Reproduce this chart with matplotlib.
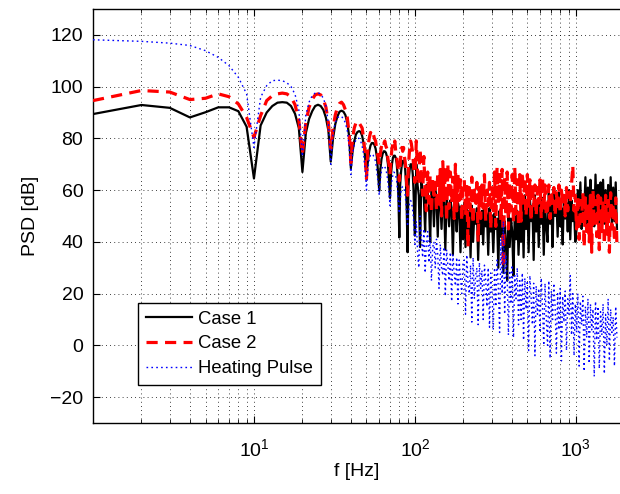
import numpy as np
import matplotlib
matplotlib.use('Agg')
import matplotlib.pyplot as plt
from matplotlib.ticker import LogLocator, NullFormatter

plt.rcParams['font.family'] = ['Liberation Sans', 'DejaVu Sans']
plt.rcParams['mathtext.fontset'] = 'custom'
plt.rcParams['mathtext.rm'] = 'Liberation Sans'

# 1..100 Hz, 1 Hz steps (read point by point)
case1_lo = [89.4, 92.9, 91.8, 88.1, 90.1, 92.0, 92.0, 90.5, 84.5, 64.5,
            85, 90, 92.5, 93.8, 94, 93.8, 92.5, 89.5, 84, 67,
            82, 87.5, 90.5, 92.5, 93, 92.5, 91, 88, 83, 71,
            80, 85.5, 88.5, 90.3, 90.7, 90.3, 89, 86, 81, 68.5,
            75, 79, 81.5, 82.5, 82.8, 82.5, 81, 78, 73, 66,
            71, 75, 77.3, 78.2, 78.2, 77.5, 76, 73, 67, 59.8,
            68, 72, 74, 75, 75, 74.5, 73, 70, 64, 57,
            66, 70, 72.5, 73.3, 73.3, 72.5, 70.5, 66, 57, 41.7,
            62, 67, 70, 71.3, 71.4, 70.5, 68, 63, 52, 36,
            60, 65.5, 68.5, 70, 70, 69, 66, 60, 50, 42.4]
case2_lo = [94.6, 98.5, 97.9, 95, 95.5, 97.2, 96.1, 93.3, 88.1, 80.4,
            88.8, 94.6, 96.5, 97.2, 97.5, 97.2, 96, 93, 87, 74,
            86, 92, 95, 96.8, 97.2, 96.8, 95, 92, 86, 76,
            84, 89, 92, 93.5, 94, 93, 91, 88, 82, 70.7,
            80, 84, 86, 86.8, 86, 85, 84, 80, 74, 64.3,
            76, 80, 82.3, 81, 82, 80, 79, 75, 73, 70,
            74, 77, 79, 78, 79, 77, 76, 72, 70, 66.2,
            72, 76, 78, 77, 79, 75, 73, 70, 68, 63.6,
            70, 74, 76.5, 75, 76.5, 73, 71, 68, 62, 58,
            68, 73, 77, 79, 78, 76, 74, 70, 66, 63]
pulse_lo = [118.1, 117.5, 116.8, 115.9, 113.9, 111.3, 108.1, 103.6, 97.2, 76.5,
            95.9, 100.4, 102.3, 102.5, 102.3, 101.5, 100, 97, 91, 73,
            89, 94, 96.5, 97.5, 97.7, 97, 95.5, 92.5, 86, 70,
            82, 86, 88, 88.5, 88.5, 87.5, 86, 83, 77, 66,
            74, 77.5, 79.5, 80, 80, 79, 77, 74, 68, 60,
            68, 72, 73.5, 74, 73.5, 72.5, 71, 67, 63, 58,
            64, 67.5, 69, 69.4, 69, 68, 66, 63, 59, 54,
            60, 64, 66, 67, 66.5, 65.5, 63.5, 60, 55, 51,
            56, 59.5, 61, 61.4, 61, 60, 58, 55, 50, 46,
            51, 54, 55.5, 56, 55.5, 54, 52, 49, 44, 39]

# 102..1800 Hz, read as a dense band (evenly spaced on the log axis)
case1_hi = [70, 62, 58, 38, 64, 60, 57, 44, 62, 59, 55, 40, 61, 58, 46, 60, 57, 42,
            59, 56, 45, 58, 55, 37, 57, 54, 46, 56, 53, 35, 55, 52, 44, 55, 53, 36, 54, 41,
            55, 38, 53, 45, 52, 34, 54, 40, 51, 47, 53, 33, 50, 43, 52, 39, 54, 46, 51, 35,
            53, 44, 50,
            36, 51, 45, 49, 30, 52, 42, 50, 28, 48, 40, 25, 51, 38, 49, 44, 27, 50, 41, 52,
            35, 49,
            40, 56, 34, 58, 45, 55, 36, 57, 48, 54, 33, 58, 44, 56, 38, 55, 47, 57, 35, 54, 46,
            40, 60, 47, 55, 38, 61, 50, 57, 42, 59, 46, 53, 39, 58, 49, 55, 44, 60, 41, 56,
            48, 52, 40,
            45, 60, 48, 63, 45, 58, 50, 65, 47, 61, 44, 64, 52, 60, 46, 66, 49, 62, 45, 63,
            51, 64, 47, 60, 44, 62, 50, 65, 46, 61, 48, 63, 45]
case2_hi = [79, 66, 62, 76, 65, 58, 73, 60, 52, 67, 55, 66, 51, 64, 58, 63, 52, 67,
            54, 68, 50, 71, 56, 69, 48, 70, 53, 67, 55, 65, 49, 70, 52, 66, 56, 64, 48, 62,
            64, 50, 62, 38, 61, 52, 65, 47, 60, 55, 63, 40, 61, 49, 62, 53, 66, 48, 60, 54,
            63, 45, 61,
            52, 67, 46, 69, 55, 66, 48, 68, 30, 65, 50, 67, 45, 63, 52, 66, 47, 69, 51, 64,
            46, 66,
            48, 67, 55, 65, 50, 66, 53, 64, 48, 63, 54, 62, 50, 61, 55, 64, 49, 65, 52, 62, 50,
            52, 62, 49, 60, 55, 61, 50, 59, 53, 62, 51, 60, 54, 58, 50, 61, 52, 59, 55, 62,
            69.5, 52, 58,
            45, 58, 41, 56, 48, 59, 38, 57, 44, 55, 40, 58, 36, 60, 46, 56, 42, 58, 37, 57,
            44, 55, 39, 58, 43, 56, 36, 59, 45, 55, 40, 57, 38]
pulse_hi = [48, 36, 30, 50, 42, 34, 45, 28, 40, 44, 32, 42, 25, 38, 40, 30, 41, 35,
            22, 39, 30, 27, 38, 19, 37, 31, 25, 36, 17, 35, 28, 23, 34, 16, 33, 26, 20, 32,
            33, 12, 35, 24, 20, 31, 9, 34, 18, 27, 30, 8, 32, 22, 29, 10, 31, 25, 15, 30,
            7, 28, 20,
            6, 30, 15, 33, 22, 5, 41, 20, 48, 12, 35, 26, 4, 29, 16, 31, 3, 27, 18, 30, 8, 25,
            10, 28, 2, 26, 14, 25, -2, 27, 18, 8, 24, -4, 23, 12, 22, 5, 26, 15, 0, 24, 10,
            0, 25, -5, 21, 10, 24, 15, -3, 20, 6, 22, -6, 19, 9, 21, -2, 18, 12, 27, 4,
            20, -4, 16,
            5, 20, -8, 17, 8, 19, -10, 15, 3, 18, -7, 16, 6, 14, -12, 17, 2, 15, -9, 13,
            4, 16, -11, 12, 0, 18, -6, 14, 5, 11, -8, 15, 3]

labels = ['Case 1', 'Case 2', 'Heating Pulse']
xticks = [10, 100, 1000]
yticks = [-20, 0, 20, 40, 60, 80, 100, 120]


def spectrum(lo, hi):
    f = np.concatenate([np.arange(1, len(lo) + 1), np.geomspace(102, 1800, len(hi))])
    return f, np.concatenate([lo, hi])


fig = plt.figure(figsize=(6.2, 4.94), dpi=100)
ax = fig.add_axes([93 / 620, 71 / 494, 527 / 620, 414 / 494])

f1, p1 = spectrum(case1_lo, case1_hi)
f2, p2 = spectrum(case2_lo, case2_hi)
f3, p3 = spectrum(pulse_lo, pulse_hi)

ax.semilogx(f1, p1, color='black', lw=1.6, label=labels[0], zorder=3)
ax.semilogx(f2, p2, color='red', lw=2.3, ls=(0, (3.5, 2.3)), label=labels[1], zorder=4)
ax.semilogx(f3, p3, color='blue', lw=1.0, ls=(0, (1.2, 2.3)), label=labels[2], zorder=5)

ax.set_xlim(1, 1880)
ax.set_ylim(-30, 130)
ax.set_xticks(xticks)
ax.set_yticks(yticks)
ax.xaxis.set_minor_locator(LogLocator(base=10, subs=np.arange(2, 10), numticks=20))
ax.xaxis.set_minor_formatter(NullFormatter())

grid_style = dict(color='black', lw=0.6, ls=(0, (1, 4)))
ax.grid(True, which='major', **grid_style)
ax.grid(True, which='minor', axis='x', **grid_style)
ax.set_axisbelow(True)

ax.tick_params(which='both', direction='in', top=True, labelsize=14)
ax.tick_params(axis='x', pad=11)
ax.tick_params(axis='y', pad=7)
ax.tick_params(which='major', length=5)
ax.tick_params(which='minor', length=3)
ax.spines['right'].set_visible(False)
for s in ['left', 'bottom', 'top']:
    ax.spines[s].set_linewidth(1.0)

ax.set_xlabel('f [Hz]', fontsize=14, labelpad=2)
ax.set_ylabel('PSD [dB]', fontsize=14, labelpad=8)

leg = ax.legend(loc='lower left', bbox_to_anchor=(0.085, 0.092), fontsize=13.3,
                fancybox=False, edgecolor='black', framealpha=1,
                handlelength=2.5, handletextpad=0.35, labelspacing=0.42,
                borderpad=0.42, borderaxespad=0)
leg.get_frame().set_linewidth(1.0)

fig.savefig('out.png', dpi=100)
